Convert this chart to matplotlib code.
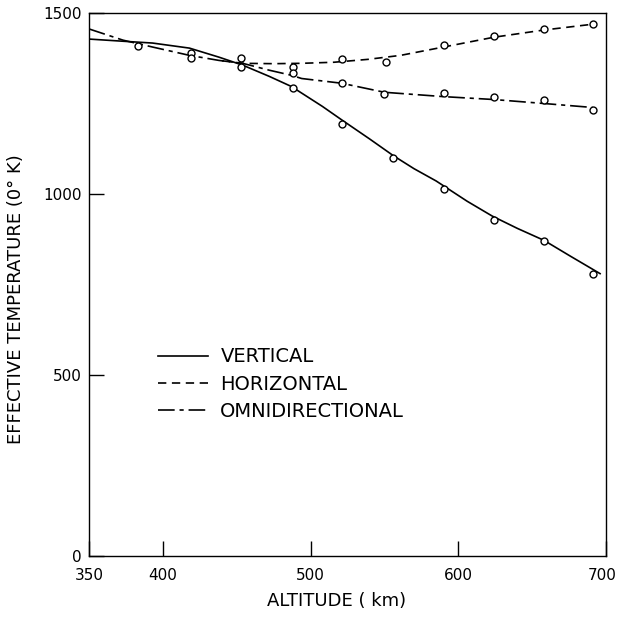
import matplotlib
matplotlib.use('Agg')
import matplotlib.pyplot as plt
from matplotlib.lines import Line2D
from matplotlib.transforms import ScaledTranslation

plt.rcParams['font.family'] = ['DejaVu Sans']
plt.rcParams['lines.scale_dashes'] = False

vert_alt = [350, 373, 393, 418, 438, 454, 472, 487, 508, 521, 540, 556, 570, 585, 606, 623, 640, 658, 676, 696]
vert_temp = [1428, 1422, 1417, 1403, 1378, 1356, 1325, 1297, 1242, 1205, 1152, 1106, 1070, 1036, 980, 939, 905, 872, 828, 780]

horiz_alt = [440, 454, 475, 494, 516, 539, 561, 590, 624, 658, 691]
horiz_temp = [1368, 1361, 1360, 1361, 1364, 1372, 1383, 1406, 1433, 1453, 1469]

omni_alt = [350, 373, 393, 418, 438, 454, 472, 487, 494, 521, 550, 590, 624, 658, 691]
omni_temp = [1456, 1425, 1406, 1383, 1369, 1361, 1342, 1328, 1319, 1306, 1281, 1269, 1261, 1250, 1239]

# measured values (open circles)
vert_pts_alt = [383, 419, 453, 488, 521, 556, 590, 624, 658, 691]
vert_pts_temp = [1408, 1389, 1350, 1294, 1194, 1100, 1014, 928, 869, 778]

horiz_pts_alt = [453, 488, 521, 551, 590, 624, 658, 691]
horiz_pts_temp = [1375, 1350, 1372, 1364, 1411, 1436, 1456, 1469]

omni_pts_alt = [419, 488, 521, 550, 590, 624, 658, 691]
omni_pts_temp = [1375, 1333, 1308, 1275, 1278, 1267, 1261, 1233]

x_ticks = [350, 400, 500, 600, 700]
y_ticks = [0, 500, 1000, 1500]

dash_h = (6, 4)
dash_o = (12, 3.5, 3, 3.5)

fig = plt.figure(figsize=(6.2, 6.19), dpi=100)
ax = fig.add_axes([89 / 620, 1 - 556 / 619, 517 / 620, 543 / 619])

lw = 1.2
ax.plot(vert_alt, vert_temp, color='black', lw=lw)
ax.plot(horiz_alt, horiz_temp, color='black', lw=lw, dashes=dash_h)
ax.plot(omni_alt, omni_temp, color='black', lw=lw, dashes=dash_o)

for xs, ys in [(vert_pts_alt, vert_pts_temp), (horiz_pts_alt, horiz_pts_temp),
               (omni_pts_alt, omni_pts_temp)]:
    ax.plot(xs, ys, 'o', ms=5, mfc='white', mec='black', mew=1.0, zorder=3)

ax.set_xlim(350, 700)
ax.set_ylim(0, 1500)
ax.set_xticks(x_ticks)
ax.set_yticks(y_ticks)
ax.tick_params(direction='in', length=11, width=1.0, labelsize=11)
ax.tick_params(axis='x', pad=9)
ax.tick_params(axis='y', pad=5)
for s in ax.spines.values():
    s.set_linewidth(1.0)

# keep the last x label inside the figure
last = ax.xaxis.get_major_ticks()[-1].label1
last.set_transform(last.get_transform() + ScaledTranslation(-4 / 100, 0, fig.dpi_scale_trans))

ax.set_xlabel('ALTITUDE ( km)', fontsize=13)
ax.xaxis.set_label_coords(0.478, -0.066)
ax.set_ylabel('EFFECTIVE TEMPERATURE (0° K)', fontsize=13)
ax.yaxis.set_label_coords(-0.124, 0.473)

handles = [
    Line2D([], [], color='black', lw=lw),
    Line2D([], [], color='black', lw=lw, dashes=dash_h),
    Line2D([], [], color='black', lw=lw, dashes=dash_o),
]
ax.legend(handles, ['VERTICAL', 'HORIZONTAL', 'OMNIDIRECTIONAL'],
          loc='upper left', bbox_to_anchor=(0.133, 0.384), frameon=False,
          fontsize=14, handlelength=2.6, handletextpad=0.62,
          labelspacing=0.43, borderpad=0, borderaxespad=0)

fig.savefig('out.png', dpi=100)
